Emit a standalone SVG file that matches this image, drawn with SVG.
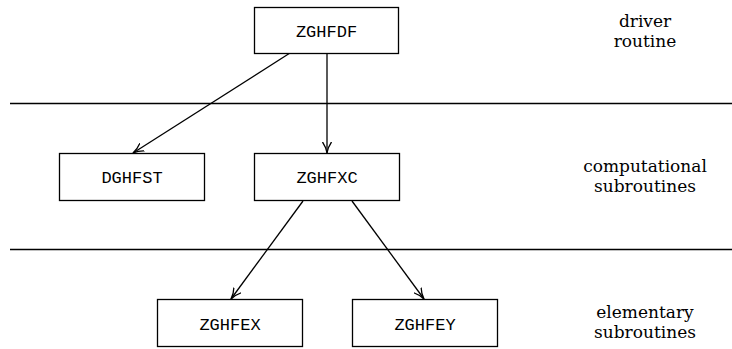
<svg xmlns="http://www.w3.org/2000/svg" width="732" height="349" viewBox="0 0 732 349">
<style>
.box{fill:#fff;stroke:#000;stroke-width:1.3}
.lbl{font-family:'Liberation Mono',monospace;font-size:17px;text-anchor:middle;fill:#000}
.side{font-family:'DejaVu Serif',serif;font-size:17px;text-anchor:middle;fill:#000}
.sep{stroke:#000;stroke-width:1.3}
.edge{stroke:#000;stroke-width:1.3;fill:none;marker-end:url(#arr)}
</style>
<defs>
<marker id="arr" viewBox="0 0 12 10" refX="11" refY="5" markerWidth="12" markerHeight="10" markerUnits="userSpaceOnUse" orient="auto">
<path d="M0,0.5 Q5,4 11,5 Q5,6 0,9.5" fill="none" stroke="#000" stroke-width="1.3"/>
</marker>
</defs>
<g id="separators">
<line class="sep" x1="10" y1="103.5" x2="732" y2="103.5"/>
<line class="sep" x1="10" y1="249.5" x2="732" y2="249.5"/>
</g>
<g id="connectors">
<line class="edge" x1="290" y1="53" x2="133" y2="153"/>
<line class="edge" x1="327" y1="53" x2="327" y2="153"/>
<line class="edge" x1="303" y1="201" x2="231" y2="299"/>
<line class="edge" x1="352" y1="201" x2="424" y2="299"/>
</g>
<g id="ZGHFDF"><rect class="box" x="254.5" y="7.5" width="144" height="46"/><text class="lbl" x="326.5" y="37">ZGHFDF</text></g>
<g id="DGHFST"><rect class="box" x="59.5" y="153.5" width="145" height="47"/><text class="lbl" x="132" y="183">DGHFST</text></g>
<g id="ZGHFXC"><rect class="box" x="254.5" y="153.5" width="145" height="47"/><text class="lbl" x="327" y="183">ZGHFXC</text></g>
<g id="ZGHFEX"><rect class="box" x="157.5" y="299.5" width="145" height="47"/><text class="lbl" x="230" y="330">ZGHFEX</text></g>
<g id="ZGHFEY"><rect class="box" x="352.5" y="299.5" width="145" height="47"/><text class="lbl" x="425" y="330">ZGHFEY</text></g>
<g id="labels">
<text class="side" x="645" y="27">driver</text>
<text class="side" x="645" y="47">routine</text>
<text class="side" x="645" y="172">computational</text>
<text class="side" x="645" y="192">subroutines</text>
<text class="side" x="645" y="318">elementary</text>
<text class="side" x="645" y="338">subroutines</text>
</g>
</svg>
